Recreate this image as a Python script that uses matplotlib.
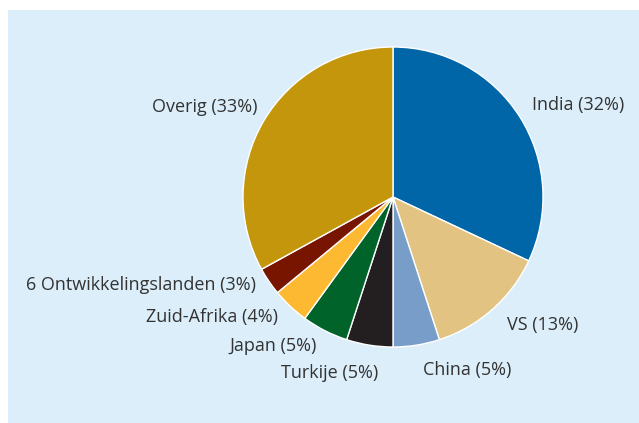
import matplotlib
matplotlib.use('Agg')
import matplotlib.pyplot as plt

landen = ['India', 'VS', 'China', 'Turkije', 'Japan', 'Zuid-Afrika',
          '6 Ontwikkelingslanden', 'Overig']
aandeel = [32, 13, 5, 5, 5, 4, 3, 33]
kleuren = ['#0066a8', '#e2c382', '#779dc8', '#231f20', '#00632a',
           '#fdb932', '#781500', '#c4960b']

labels = ['%s (%d%%)' % (l, a) for l, a in zip(landen, aandeel)]

# label anchor points (data units, pie radius = 1)
label_pos = [(0.93, 0.61), (0.76, -0.85), (0.20, -1.15), (-0.10, -1.17),
             (-0.51, -0.99), (-0.77, -0.80), (-0.91, -0.59), (-0.90, 0.60)]

plt.rcParams['font.family'] = ['Open Sans', 'DejaVu Sans']

fig = plt.figure(figsize=(6.39, 4.23), dpi=100)
fig.patch.set_facecolor('white')
ax = fig.add_axes([8/639, 0, 631/639, 413/423])

wedges, texts = ax.pie(aandeel, labels=labels, colors=kleuren,
                       startangle=90, counterclock=False,
                       labeldistance=1.1, frame=True,
                       wedgeprops=dict(edgecolor='white', linewidth=1.0),
                       textprops=dict(color='#333333', fontsize=13))

for t, p in zip(texts, label_pos):
    t.set_position(p)
    t.set_va('center')

ax.set_facecolor('#dbeefa')
ax.set_aspect('auto')
ax.set_xlim(-385/150, 246/150)
ax.set_ylim(-226/150, 187/150)
ax.set_xticks([])
ax.set_yticks([])
for s in ax.spines.values():
    s.set_visible(False)

fig.savefig('out.png', dpi=100)
